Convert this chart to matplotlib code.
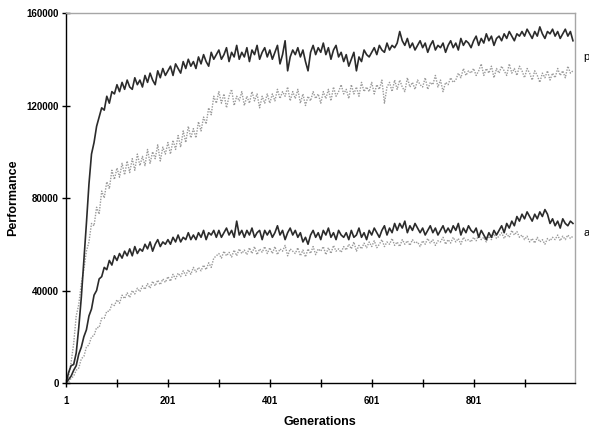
import matplotlib
matplotlib.use("Agg")
import matplotlib.pyplot as plt
from matplotlib.ticker import FixedLocator

# generations sampled every 5 (1, 6, 11, ... 996)
generations = list(range(1, 1000, 5))

# performance values, in thousands
p_dark = [
    0, 4.5, 7.5, 8.0, 13, 24, 37, 53, 69, 86,
    99, 104, 111, 115, 119, 118, 124, 121, 126, 125,
    129, 126, 130, 127, 131, 128, 127, 132, 129, 131,
    128, 133, 130, 134, 131, 129, 135, 132, 136, 133,
    135, 137, 133, 138, 136, 134, 139, 136, 140, 137,
    139, 136, 141, 138, 142, 139, 137, 143, 140, 142,
    144, 140, 142, 145, 139, 143, 141, 146, 140, 143,
    141, 145, 139, 144, 142, 146, 140, 143, 145, 141,
    144, 140, 143, 146, 138, 142, 148, 135, 141, 144,
    142, 145, 141, 144, 139, 135, 143, 146, 142, 145,
    143, 147, 142, 145, 140, 144, 146, 141, 143, 139,
    142, 137, 140, 143, 135, 141, 139, 144, 142, 141,
    143, 145, 142, 146, 144, 143, 147, 144, 146, 145,
    147, 152, 148, 146, 149, 145, 147, 144, 146, 148,
    145, 147, 143, 146, 148, 144, 146, 145, 147, 143,
    146, 148, 145, 147, 144, 149, 146, 148, 147, 145,
    148, 150, 146, 149, 147, 151, 148, 150, 146, 149,
    150, 148, 151, 149, 152, 150, 148, 151, 150, 152,
    150, 153, 151, 149, 152, 150, 154, 151, 149, 152,
    151, 153, 150, 152, 149, 151, 153, 150, 152, 148,
]

p_gray = [
    0, 3, 9, 17, 29, 34, 43, 49, 57, 61,
    69, 68, 76, 73, 83, 80, 87, 84, 92, 88,
    93, 89, 95, 90, 96, 91, 97, 92, 99, 94,
    98, 94, 101, 95, 100, 97, 103, 96, 102, 99,
    104, 99, 105, 101, 107, 102, 109, 104, 111, 106,
    110, 106, 113, 109, 115, 112, 119, 116, 124, 121,
    126, 121, 125, 119, 124, 127, 120, 124, 122, 126,
    120, 124, 121, 126, 122, 125, 119, 124, 121, 125,
    121, 125, 122, 127, 123, 126, 124, 128, 122, 126,
    123, 127, 121, 125, 120, 124, 122, 126, 123, 125,
    121, 126, 123, 127, 122, 128, 124, 126, 129, 125,
    127, 123, 129, 125, 128, 124, 130, 126, 128, 126,
    130, 125, 129, 127, 131, 121, 128, 130, 126, 131,
    127, 131, 128, 126, 132, 128, 130, 127, 131, 129,
    128, 132, 127, 130, 129, 133, 128, 131, 126, 130,
    129, 132, 130, 131, 134, 132, 136, 133, 135, 134,
    136, 133, 135, 138, 133, 136, 134, 137, 132, 136,
    134, 137, 135, 133, 138, 134, 136, 133, 137, 135,
    132, 136, 134, 131, 135, 133, 130, 134, 132, 135,
    131, 134, 132, 136, 133, 135, 132, 137, 134, 135,
]

a_dark = [
    0, 1.5, 3, 5.5, 7.5, 12.5, 15.5, 20, 23, 29,
    32, 38, 40, 45, 46, 50, 49, 53, 51, 55,
    53, 56, 54, 57, 55, 58, 55, 59, 56, 58,
    57, 60, 58, 61, 57, 60, 62, 59, 61, 60,
    62, 60, 63, 61, 64, 61, 63, 62, 65, 62,
    64, 62, 65, 63, 66, 62, 65, 64, 66, 63,
    66, 63, 65, 67, 64, 66, 63, 70, 64, 66,
    63, 66, 64, 67, 63, 65, 66, 62, 66, 64,
    66, 63, 65, 68, 64, 66, 62, 65, 67, 64,
    66, 63, 65, 61, 63, 60, 64, 66, 63, 65,
    62, 66, 64, 67, 63, 65, 62, 66, 64, 63,
    65, 62, 66, 63, 64, 67, 63, 65, 62, 66,
    64, 67, 65, 63, 66, 68, 64, 67, 65, 69,
    66, 69, 67, 70, 65, 68, 66, 69, 67, 65,
    67, 64, 66, 68, 65, 67, 64, 66, 68, 65,
    67, 65, 68, 66, 69, 64, 67, 65, 68, 66,
    65, 67, 63, 66, 64, 62, 65, 63, 66, 64,
    66, 68, 65, 69, 67, 70, 68, 72, 70, 73,
    71, 74, 72, 70, 73, 71, 74, 72, 75, 73,
    69, 71, 68, 70, 67, 71, 69, 68, 70, 69,
]

a_gray = [
    0, 0.5, 2, 3, 5.5, 6.5, 10.5, 11.5, 15.5, 16.5,
    20, 20.5, 24, 24, 28, 28, 31, 31, 34, 33.5,
    36, 34.5, 38, 36.5, 39, 37, 40, 38.5, 41, 39.5,
    42, 40.5, 43, 41, 44, 42, 44.5, 42.5, 45, 43.5,
    46, 44, 47, 45, 47.5, 46, 48.5, 46.5, 49, 47,
    50, 48, 50, 48.5, 51, 49, 52, 50, 54, 55,
    56, 54, 57, 55, 56.5, 54.5, 57.5, 55, 58, 56,
    57.5, 55.5, 58.5, 56, 59, 55.5, 58, 56.5, 59, 56,
    58.5, 56, 59, 55.5, 58, 57, 59.5, 55, 58, 57,
    56, 58.5, 55, 57.5, 54.5, 58, 56, 59, 55.5, 58,
    57, 59, 55.5, 58.5, 56, 59.5, 57, 58, 56.5, 59,
    57.5, 60, 58, 61, 57, 59.5, 58, 60.5, 58.5, 61,
    59, 61.5, 58.5, 60, 62, 59, 61, 60, 62.5, 59.5,
    61, 59, 62, 60, 61.5, 59.5, 62, 60.5, 61, 59,
    61.5, 60, 62.5, 60.5, 62, 59.5, 61.5, 61, 63, 60,
    62, 60.5, 63, 61, 62.5, 60, 63, 61.5, 62, 61,
    63, 61.5, 64, 62, 63, 61, 63.5, 62, 64.5, 62.5,
    63.5, 65, 62.5, 64.5, 63, 66, 64, 65.5, 63, 64,
    62, 63.5, 61, 62.5, 60.5, 63, 61, 62, 60, 62.5,
    61.5, 63, 62, 64, 61.5, 63.5, 62, 64, 62.5, 63.5,
]

series_labels = ["p", "a"]
x_major = [1, 201, 401, 601, 801]
x_minor = [101, 301, 501, 701, 901]
y_ticks = [0, 40000, 80000, 120000, 160000]

plt.rcParams['font.family'] = ['Liberation Sans', 'DejaVu Sans']

fig = plt.figure(figsize=(5.89, 4.32), dpi=100)
ax = fig.add_axes([0.1121, 0.1134, 0.8641, 0.8565])

dark = '#2b2b2b'
gray = '#9a9a9a'

ax.plot(generations, [v * 1000 for v in p_gray], color=gray, lw=1.0,
        linestyle=(0, (1, 1)))
ax.plot(generations, [v * 1000 for v in a_gray], color=gray, lw=1.0,
        linestyle=(0, (1, 1)))
ax.plot(generations, [v * 1000 for v in p_dark], color=dark, lw=1.2)
ax.plot(generations, [v * 1000 for v in a_dark], color=dark, lw=1.2)

ax.set_xlim(1, 1000)
ax.set_ylim(0, 160000)

# excel look: black left/bottom axis, grey plot area border
for side in ['left', 'bottom']:
    ax.spines[side].set_color('black')
    ax.spines[side].set_linewidth(1.0)
for side in ['top', 'right']:
    ax.spines[side].set_color('#a6a6a6')
    ax.spines[side].set_linewidth(1.0)

ax.xaxis.set_major_locator(FixedLocator(x_major))
ax.xaxis.set_minor_locator(FixedLocator(x_minor))
ax.set_xticklabels([str(v) for v in x_major])
ax.set_yticks(y_ticks)
ax.set_yticklabels([str(v) for v in y_ticks])

ax.tick_params(axis='both', which='both', direction='inout', length=6,
               width=1, color='black')
ax.tick_params(axis='both', which='major', labelsize=7)
ax.tick_params(axis='x', which='major', pad=6)
ax.tick_params(axis='y', which='major', pad=2)
for lbl in ax.get_xticklabels() + ax.get_yticklabels():
    lbl.set_fontweight('bold')

fig.text(320 / 589, 1 - 422 / 432, 'Generations', ha='center', va='center',
         fontsize=9, fontweight='bold')
fig.text(13 / 589, 1 - 198 / 432, 'Performance', ha='center', va='center',
         rotation=90, fontsize=9, fontweight='bold')

# series names, cut off at the right edge like in the source
fig.text(583 / 589, 1 - 57 / 432, series_labels[0], ha='left', va='center',
         fontsize=8)
fig.text(583 / 589, 1 - 233 / 432, series_labels[1], ha='left', va='center',
         fontsize=8)

fig.savefig('out.png', dpi=100)
